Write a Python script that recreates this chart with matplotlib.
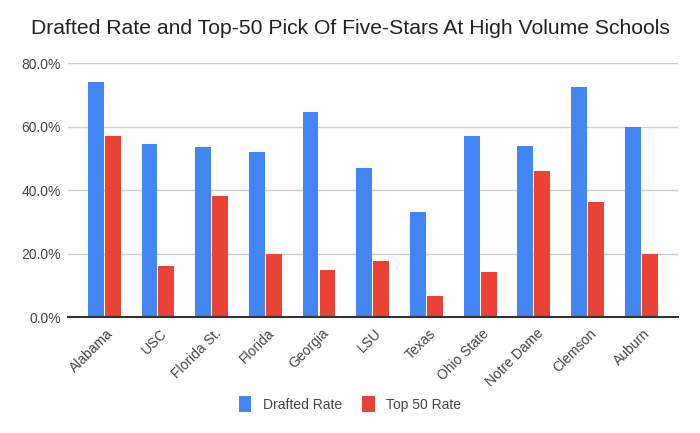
import numpy as np
import matplotlib
matplotlib.use('Agg')
from matplotlib import pyplot as plt
from matplotlib import transforms
from matplotlib.ticker import FuncFormatter

schools = ['Alabama', 'USC', 'Florida St.', 'Florida', 'Georgia', 'LSU',
           'Texas', 'Ohio State', 'Notre Dame', 'Clemson', 'Auburn']
drafted_rate = [74.2, 54.5, 53.6, 51.9, 64.7, 47.1, 33.3, 57.1, 53.8, 72.4, 60.0]
top50_rate = [57.1, 16.1, 38.2, 19.8, 15.0, 17.6, 6.7, 14.3, 46.0, 36.4, 20.0]

plt.rcParams['font.family'] = ['Liberation Sans', 'DejaVu Sans']

fig = plt.figure(figsize=(7, 4.33), dpi=100)
ax = fig.add_axes([0.097, 0.267, 0.872, 0.587])

x = np.arange(len(schools))
w = 0.295
ax.bar(x - w / 2 - 0.01, drafted_rate, w, color='#4285F4', label='Drafted Rate', zorder=3)
ax.bar(x + w / 2 + 0.01, top50_rate, w, color='#EA4335', label='Top 50 Rate', zorder=3)

ax.set_ylim(0, 80)
ax.set_xlim(-0.676, len(schools) - 1 + 0.69)
ax.set_yticks([0, 20, 40, 60, 80])
ax.yaxis.set_major_formatter(FuncFormatter(lambda v, p: '%.1f%%' % v))
ax.grid(axis='y', color='#cccccc', linewidth=1, zorder=0)

ax.tick_params(axis='both', length=0, labelsize=10, colors='#444444')
ax.tick_params(axis='x', pad=10)
ax.tick_params(axis='y', pad=5)

ax.set_xticks(x)
ax.set_xticklabels(schools, rotation=45, ha='right', va='center',
                   rotation_mode='anchor')
# nudge the rotated labels to the right (after tick_params, which resets transforms)
shift = transforms.ScaledTranslation(7 / 100, 0, fig.dpi_scale_trans)
for lbl in ax.get_xticklabels():
    lbl.set_transform(lbl.get_transform() + shift)

for s in ['top', 'right', 'left']:
    ax.spines[s].set_visible(False)
ax.spines['bottom'].set_color('#333333')
ax.spines['bottom'].set_linewidth(1.5)
ax.spines['bottom'].set_zorder(4)

fig.suptitle('Drafted Rate and Top-50 Pick Of Five-Stars At High Volume Schools',
             x=0.5, y=0.955, fontsize=15.2, color='#222222')

fig.legend(loc='center', bbox_to_anchor=(0.5, 0.067), ncol=2, frameon=False,
           fontsize=10, handlelength=0.9, handleheight=1.3, columnspacing=1.5,
           labelcolor='#444444')

plt.savefig('out.png', dpi=100)
